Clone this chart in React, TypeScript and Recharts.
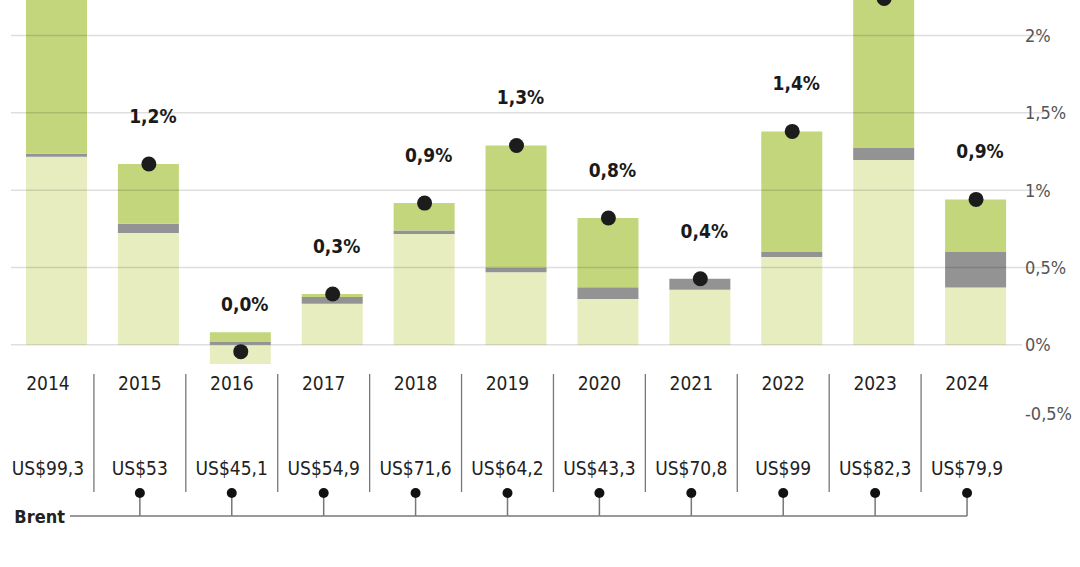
import {
  ComposedChart,
  Bar,
  Line,
  XAxis,
  YAxis,
  ReferenceLine,
  LabelList,
} from "recharts";

// contribution per year, in percentage points
const years = ["2014", "2015", "2016", "2017", "2018", "2019", "2020", "2021", "2022", "2023", "2024"];
const baseShare = [1.216, 0.722, -0.125, 0.265, 0.716, 0.468, 0.296, 0.356, 0.567, 1.195, 0.37];
const midShare = [0.02, 0.06, 0.02, 0.043, 0.023, 0.028, 0.075, 0.071, 0.036, 0.08, 0.23];
const topShare = [1.37, 0.387, 0.06, 0.02, 0.177, 0.793, 0.449, 0, 0.777, 0.965, 0.34];
// Brent average price, US$ per barrel
const brentPrice = [99.3, 53, 45.1, 54.9, 71.6, 64.2, 43.3, 70.8, 99, 82.3, 79.9];

const gridTicks = [0, 0.5, 1, 1.5, 2];
const axisTicks = [-0.5, 0, 0.5, 1, 1.5, 2];

const W = 1080;
const H = 567;
const LEFT = 11;
const AXIS_W = 58;
const PLOT_H = 422;
const STEP = (W - LEFT - AXIS_W) / years.length;
const LABEL_RISE = 48;

const FONT = "'DejaVu Sans Condensed', 'DejaVu Sans', sans-serif";
const textStyle = { fontStretch: "condensed" as const };

const data = years.map((year, i) => ({
  year,
  base: baseShare[i],
  mid: midShare[i],
  top: topShare[i],
  total: baseShare[i] + midShare[i] + topShare[i],
}));

const decimal = (v: number) => String(v).replace(".", ",");
const pctLabel = (v: number) => Number(v.toFixed(1)).toFixed(1).replace(".", ",") + "%";

function PctTick(props: any) {
  const { x, y, payload } = props;
  const v = payload.value as number;
  return (
    <text
      x={x}
      y={v < 0 ? y - 9 : y}
      dominantBaseline="central"
      fill="#555"
      fontSize={18}
      fontFamily={FONT}
      style={textStyle}
    >
      {decimal(v) + "%"}
    </text>
  );
}

function YearTick(props: any) {
  const { x, y, payload, index } = props;
  const cx = x - 9;
  const baseY = y + 94;
  return (
    <g fontFamily={FONT} style={textStyle}>
      <text x={cx} y={y - 39} textAnchor="middle" dominantBaseline="central" fontSize={19} fill="#222">
        {payload.value}
      </text>
      <text x={cx} y={y + 46} textAnchor="middle" dominantBaseline="central" fontSize={19} fill="#222">
        {"US$" + decimal(brentPrice[index])}
      </text>
      {index === 0 && (
        <text x={x + 8} y={baseY} textAnchor="end" dominantBaseline="central" fontSize={18} fontWeight="bold" fill="#222">
          Brent
        </text>
      )}
      {index > 0 && (
        <g>
          <line x1={x - STEP / 2 - 9} x2={x - STEP / 2 - 9} y1={y - 48} y2={y + 70} stroke="#777" strokeWidth={1.3} />
          <line x1={index === 1 ? x - STEP + 13 : cx - STEP} x2={cx} y1={baseY} y2={baseY} stroke="#777" strokeWidth={1.5} />
          <line x1={cx} x2={cx} y1={y + 71} y2={baseY} stroke="#777" strokeWidth={1.5} />
          <circle cx={cx} cy={y + 71} r={5} fill="#111" />
        </g>
      )}
    </g>
  );
}

function TotalLabel(props: any) {
  const x = props.x ?? props.viewBox?.x;
  const y = props.y ?? props.viewBox?.y;
  // totals whose label would sit above the plot are left unlabelled
  if (y - LABEL_RISE < 12) return null;
  return (
    <text
      x={x + 4}
      y={y - LABEL_RISE}
      textAnchor="middle"
      dominantBaseline="central"
      fontSize={19}
      fontWeight="bold"
      fontFamily={FONT}
      style={textStyle}
      fill="#1a1a1a"
    >
      {pctLabel(props.value)}
    </text>
  );
}

export default function App() {
  return (
    <div style={{ position: "absolute", left: 0, top: 0, background: "#fff" }}>
      <ComposedChart
        width={W}
        height={H}
        data={data}
        stackOffset="sign"
        margin={{ top: 0, right: 0, bottom: 0, left: LEFT }}
      >
        <XAxis
          dataKey="year"
          axisLine={false}
          tickLine={false}
          tickSize={0}
          tickMargin={0}
          interval={0}
          height={H - PLOT_H}
          tick={<YearTick />}
        />
        <YAxis
          orientation="right"
          width={AXIS_W}
          domain={[-0.5, 2.23]}
          allowDataOverflow
          ticks={axisTicks}
          axisLine={false}
          tickLine={false}
          tickSize={0}
          tickMargin={3}
          tick={<PctTick />}
        />
        <Bar dataKey="base" stackId="s" fill="#e8edc0" barSize={61} isAnimationActive={false} />
        <Bar dataKey="mid" stackId="s" fill="#939393" barSize={61} isAnimationActive={false} />
        <Bar dataKey="top" stackId="s" fill="#c3d67c" barSize={61} isAnimationActive={false} />
        {gridTicks.map((v) => (
          <ReferenceLine
            key={v}
            y={v}
            shape={(p: any) => (
              <line
                x1={p.x1 + (v === 0 ? 0 : 22)}
                x2={p.x2}
                y1={p.y1}
                y2={p.y2}
                stroke="rgba(0,0,0,0.13)"
                strokeWidth={1.5}
              />
            )}
          />
        ))}
        <Line
          dataKey="total"
          stroke="none"
          dot={{ r: 7.5, fill: "#1c1c1c", stroke: "none" }}
          activeDot={false}
          isAnimationActive={false}
        >
          <LabelList dataKey="total" content={<TotalLabel />} />
        </Line>
      </ComposedChart>
    </div>
  );
}
